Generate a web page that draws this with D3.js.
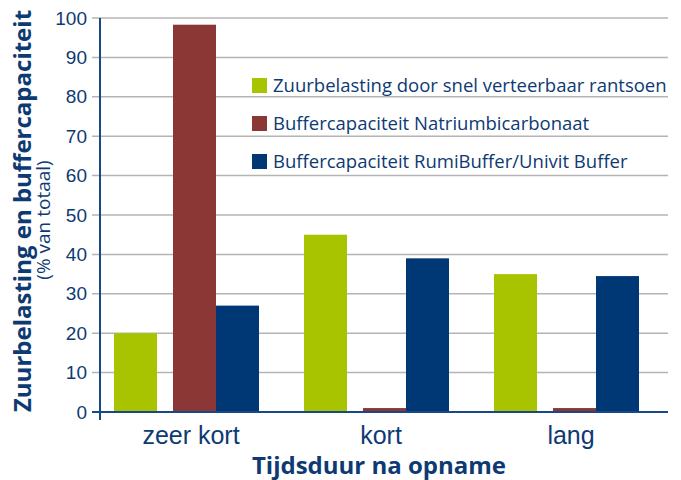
<!DOCTYPE html>
<html>
<head>
<meta charset="utf-8">
<script src="https://cdn.jsdelivr.net/npm/d3@7"></script>
<style>
  body { margin: 0; background: #fff; }
  svg { font-family: "Open Sans", "Noto Sans", sans-serif; }
</style>
</head>
<body>
<svg width="681" height="480"></svg>
<script>
// data
const categories = ['zeer kort', 'kort', 'lang'];
const series = [
  'Zuurbelasting door snel verteerbaar rantsoen',
  'Buffercapaciteit Natriumbicarbonaat',
  'Buffercapaciteit RumiBuffer/Univit Buffer'
];
const zuurbelasting = [20, 45, 35];
const natrium = [98.3, 1, 1];
const rumiBuffer = [27, 39, 34.5];
const yTicks = [0, 10, 20, 30, 40, 50, 60, 70, 80, 90, 100];

const colors = ['#a8c400', '#8b3735', '#003876'];
const textColor = '#0d3a73';

const svg = d3.select('svg');
const margin = { top: 18, right: 11, bottom: 68, left: 100 };
const width = 681 - margin.left - margin.right;
const height = 480 - margin.top - margin.bottom;

const g = svg.append('g')
  .attr('transform', `translate(${margin.left},${margin.top})`);

const x = d3.scaleBand()
  .domain(categories)
  .range([0, width]);

// positie van de balken binnen een groep (groen los, rood+blauw tegen elkaar)
const inner = d3.scaleOrdinal()
  .domain(series)
  .range([14, 73, 116]);
const barW = 43;

const y = d3.scaleLinear()
  .domain([0, 100])
  .range([height, 0]);

// gridlijnen
g.append('g')
  .selectAll('line')
  .data(yTicks.filter(d => d > 0))
  .enter().append('line')
  .attr('x1', -8)
  .attr('x2', width - 2)
  .attr('y1', d => y(d))
  .attr('y2', d => y(d))
  .attr('stroke', '#b4b4b4')
  .attr('stroke-width', 1.5);

// balken
const rows = [zuurbelasting, natrium, rumiBuffer];
const bars = [];
categories.forEach((c, i) => {
  series.forEach((s, j) => bars.push({ cat: c, serie: s, value: rows[j][i], color: colors[j] }));
});

g.append('g')
  .selectAll('rect')
  .data(bars)
  .enter().append('rect')
  .attr('x', d => x(d.cat) + inner(d.serie))
  .attr('y', d => y(d.value))
  .attr('width', barW)
  .attr('height', d => height - y(d.value))
  .attr('fill', d => d.color);

// y-as
const yAxis = g.append('g')
  .call(d3.axisLeft(y).tickValues(yTicks).tickSize(0).tickPadding(13));
yAxis.select('.domain').remove();
yAxis.selectAll('text')
  .attr('fill', textColor)
  .style('font-size', '19px');

g.append('line')
  .attr('x1', 0).attr('x2', 0)
  .attr('y1', 0).attr('y2', height + 8)
  .attr('stroke', '#1a4785').attr('stroke-width', 2);

// x-as
g.append('line')
  .attr('x1', -8).attr('x2', width - 2)
  .attr('y1', height).attr('y2', height)
  .attr('stroke', '#1a4785').attr('stroke-width', 2);

const xAxis = g.append('g')
  .attr('transform', `translate(0,${height})`)
  .call(d3.axisBottom(x).tickSize(0).tickPadding(14));
xAxis.select('.domain').remove();
xAxis.selectAll('text')
  .attr('fill', textColor)
  .attr('dx', '-4px')
  .style('font-size', '25px');

// astitels
svg.append('text')
  .attr('x', 379)
  .attr('y', 474)
  .attr('text-anchor', 'middle')
  .attr('fill', textColor)
  .style('font-size', '24px')
  .style('font-weight', 'bold')
  .text('Tijdsduur na opname');

svg.append('text')
  .attr('transform', 'translate(31,211) rotate(-90)')
  .attr('text-anchor', 'middle')
  .attr('fill', textColor)
  .style('font-size', '24px')
  .style('font-weight', 'bold')
  .text('Zuurbelasting en buffercapaciteit');

svg.append('text')
  .attr('transform', 'translate(50,220) rotate(-90)')
  .attr('text-anchor', 'middle')
  .attr('fill', textColor)
  .style('font-size', '19px')
  .text('(% van totaal)');

// legenda
const legend = svg.append('g')
  .attr('transform', 'translate(252,78)');
const item = legend.selectAll('g')
  .data(series)
  .enter().append('g')
  .attr('transform', (d, i) => `translate(0,${i * 38})`);
item.append('rect')
  .attr('width', 15).attr('height', 15)
  .attr('fill', (d, i) => colors[i]);
item.append('text')
  .attr('x', 21)
  .attr('y', 14)
  .attr('fill', textColor)
  .style('font-size', '18.5px')
  .text(d => d);
</script>
</body>
</html>
